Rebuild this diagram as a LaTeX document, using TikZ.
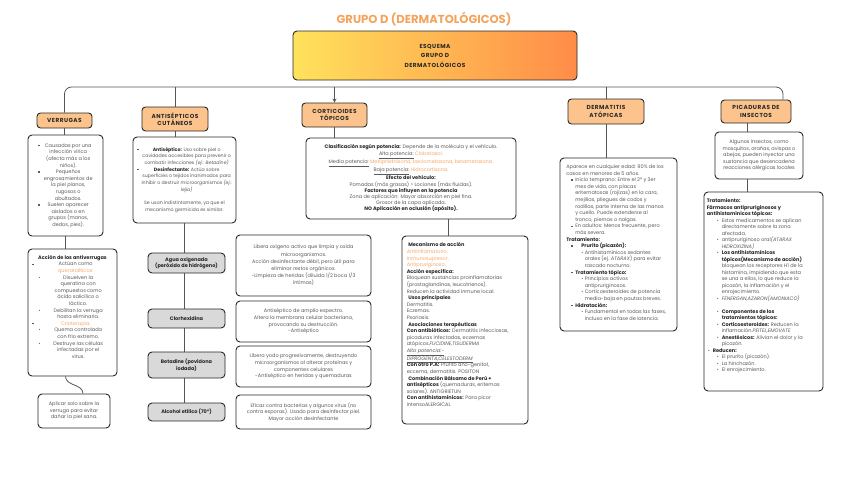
\documentclass[tikz,border=0pt]{standalone}
\usepackage{fontspec}
\setmainfont{Poppins}
\newfontfamily\spaced{Poppins}[LetterSpace=8]
\usetikzlibrary{arrows,positioning}

\definecolor{ink}{RGB}{40,40,40}
\definecolor{soft}{RGB}{90,90,90}
\definecolor{accent}{RGB}{246,168,106}
\definecolor{titlec}{RGB}{242,164,92}
\definecolor{headfill}{RGB}{252,196,140}
\definecolor{drugfill}{RGB}{217,217,217}
\definecolor{linkc}{RGB}{85,85,85}
\definecolor{gradL}{RGB}{255,226,92}
\definecolor{gradR}{RGB}{255,140,72}

\newcommand\kw[1]{{\bfseries\color{ink}#1}}
\newcommand\acc[1]{{\color{accent}#1}}
\newcommand\sqb{\raisebox{0.9pt}{\rule{1.4pt}{1.4pt}}}
\newcommand\dotb{\raisebox{0.1pt}{\scalebox{0.95}{\textbullet}}}
% list line starts (dermatitis box)
\newcommand\lia{\hspace*{5pt}\makebox[4pt][l]{\sqb}}
\newcommand\lib{\hspace*{9pt}}
\newcommand\lic{\hspace*{15pt}\makebox[3.5pt][l]{\dotb}}
\newcommand\lid{\hspace*{18.5pt}}
% list line starts (tratamiento box)
\newcommand\tia{\hspace*{1pt}\makebox[5pt][l]{\dotb}}
\newcommand\tic{\hspace*{10pt}\makebox[5pt][l]{\dotb}}
\newcommand\tid{\hspace*{15pt}}

\begin{document}
\begin{tikzpicture}[x=1pt,y=-1pt,>=stealth,
    wh/.style 2 args={minimum width=#1pt,minimum height=#2pt},
    head/.style={draw=ink,fill=headfill,line width=0.9pt,rounded corners=3.5pt,
      inner sep=0pt,align=center,text=ink,
      font=\spaced\bfseries\fontsize{5.8}{7.6}\selectfont},
    card/.style={draw=ink,fill=white,line width=0.9pt,rounded corners=4pt,
      inner sep=0pt,align=center,text=soft,font=\fontsize{5}{6.6}\selectfont},
    drug/.style={card,fill=drugfill,text=ink,font=\bfseries\fontsize{5}{6.6}\selectfont},
    note/.style={inner sep=0pt,align=left,text=soft,font=\fontsize{5}{6.6}\selectfont},
    link/.style={draw=linkc,line width=0.8pt}]
  \useasboundingbox (0,0) rectangle (848,477);

  % title and header
  \node[text=titlec,font=\bfseries\fontsize{11.6}{13}\selectfont] (title) at (424,19)
    {GRUPO D (DERMATOLÓGICOS)};
  \node[draw=ink,line width=0.9pt,rounded corners=4pt,left color=gradL,right color=gradR,
    wh={284}{49},align=center,text=ink,
    font=\spaced\bfseries\fontsize{5.8}{9.5}\selectfont] (esq) at (435,55.5)
    {ESQUEMA\\GRUPO D\\DERMATOLÓGICOS};

  % branch heads
  \node[head,wh={55}{15}] (verr) at (64.5,120.5) {VERRUGAS};
  \node[head,wh={66}{24}] (anti) at (175,119) {ANTISÉPTICOS\\CUTÁNEOS};
  \node[head,wh={65}{24}] (corti) at (334.5,115) {CORTICOIDES\\TÓPICOS};
  \node[head,wh={76}{25}] (derm) at (606,111.5) {DERMATITIS\\ATÓPICAS};
  \node[head,wh={70}{23}] (pica) at (756,111.5) {PICADURAS DE\\INSECTOS};

  \coordinate (bus) at (0,87);
  \coordinate (picr) at ([xshift=27pt]pica.north);
  \draw[link,rounded corners=7pt] (verr.north) |- (bus -| picr) -- (picr);
  \draw[link] (bus -| anti.north) -- (anti.north);
  \draw[link,->] (bus -| corti.north) -- (corti.north);
  \draw[link] (bus -| derm.north) -- (derm.north);

  % verrugas
  \node[card,wh={75}{101}] (verrtxt) at (65.5,185.5) {%
    \begin{tabular}{@{}l@{\hspace{4pt}}c@{}}
    \sqb & Causadas por una\\
     & infección vírica\\
     & (afecta más a los\\
     & niños).\\
    \sqb & Pequeños\\
     & engrosamientos de\\
     & la piel planos,\\
     & rugosos o\\
     & abultados.\\
    \sqb & Suelen aparecer\\
     & aislados o en\\
     & grupos (manos,\\
     & dedos, pies).
    \end{tabular}};
  \node[card,wh={89}{127}] (verracc) at (72.5,312.5) {};
  \node[note,anchor=north] (verrnote) at ([yshift=-6pt]verracc.north) {%
    \begin{tabular}{@{}l@{\hspace{5pt}}l@{\hspace{3pt}}c@{}}
    \multicolumn{3}{c}{\kw{Acción de los antiverrugas}}\\
    \sqb & \multicolumn{2}{c}{Actúan como}\\
     & \multicolumn{2}{c}{\acc{queratolíticos:}}\\
     & \dotb & Disuelven la\\
     & & queratina con\\
     & & compuestos como\\
     & & ácido salicílico o\\
     & & láctico.\\
     & \dotb & Debilitan la verruga\\
     & & hasta eliminarla.\\
    \sqb & \multicolumn{2}{c}{\acc{Crioterapia:}}\\
     & \dotb & Quema controlada\\
     & & con frío extremo.\\
     & \dotb & Destruye las células\\
     & & infectadas por el\\
     & & virus.
    \end{tabular}};
  \node[card,wh={72}{34}] (aplic) at (74,411)
    {Aplicar solo sobre la\\verruga para evitar\\dañar la piel sana.};
  \draw[link] (verr.south) -- (verr.south |- verrtxt.north);
  \draw[link] (verrtxt.south) -- (verrtxt.south |- verracc.north);
  \draw[link] (verrtxt.south |- verracc.south) to[out=-90,in=90] ([xshift=9pt]aplic.north);

  % antisepticos
  \node[card,wh={103}{86},font=\fontsize{4.7}{6.7}\selectfont] (antitxt) at (184.5,180) {%
    \begin{tabular}{@{}l@{\hspace{3pt}}c@{}}
    \sqb & \kw{Antiséptico:} Uso sobre piel o\\
     & cavidades accesibles para prevenir o\\
     & combatir infecciones \textit{(ej.: Betadine)}\\
    \sqb & \kw{Desinfectante:} Actúa sobre\\
     & superficies o tejidos inanimados para\\
     & inhibir o destruir microorganismos \textit{(ej.:}\\
     & \textit{lejía)}\\
    \multicolumn{2}{c}{}\\
    \multicolumn{2}{c}{Se usan indistintamente, ya que el}\\
    \multicolumn{2}{c}{mecanismo germicida es similar.}
    \end{tabular}};
  \node[drug,wh={77}{20}] (agua) at (186.5,263) {Agua oxigenada\\(peróxido de hidrógeno)};
  \node[drug,wh={77}{19}] (clor) at (186.5,318.5) {Clorhexidina};
  \node[drug,wh={77}{26}] (beta) at (186.5,365) {Betadine (povidona\\iodada)};
  \node[drug,wh={77}{18}] (alco) at (186.5,412) {Alcohol etílico (70°)};
  \draw[link] (anti.south) -- (anti.south |- antitxt.north);
  \draw[link] (antitxt.south) -- (antitxt.south |- agua.north);
  \foreach \a/\b in {agua/clor,clor/beta,beta/alco}
    \draw[link] (antitxt.south |- \a.south) -- (antitxt.south |- \b.north);

  \node[card,wh={135}{61},font=\fontsize{5}{7.2}\selectfont] (aguatxt) at (303.5,265.5)
    {Libera oxígeno activo que limpia y oxida\\microorganismos.\\
     Acción desinfectante débil, pero útil para\\eliminar restos orgánicos.\\
     -Limpieza de heridas (diluida 1/2 boca 1/3\\íntimas)};
  \node[card,wh={135}{41}] (clortxt) at (303.5,321.5)
    {Antiséptico de amplio espectro.\\Altera la membrana celular bacteriana,\\
     provocando su destrucción.\\-Antiséptico};
  \node[card,wh={135}{41}] (betatxt) at (303.5,366.5)
    {Libera yodo progresivamente, destruyendo\\microorganismos al alterar proteínas y\\
     componentes celulares\\-Antiséptico en heridas y quemaduras};
  \node[card,wh={135}{34}] (alcotxt) at (303.5,412)
    {Eficaz contra bacterias y algunos virus (no\\
     contra esporas). Usado para desinfectar piel.\\Mayor acción desinfectante};

  % corticoides
  \node[card,wh={210}{81},font=\fontsize{5}{6.2}\selectfont] (clasif) at (411,178.5)
    {\kw{Clasificación según potencia:} Depende de la molécula y el vehículo.\\
     \underline{Alta potencia:} \acc{Clobetasol.}\\
     \underline{Media potencia:} \acc{Metilprednisona, beclometasona, betametasona.}\\
     \underline{Baja potencia:} \acc{Hidrocortisona.}\\
     \kw{Efecto del vehículo:}\\
     Pomadas (más grasas) > Lociones (más fluidas).\\
     \kw{Factores que influyen en la potencia}\\
     Zona de aplicación: Mayor absorción en piel fina.\\
     Grosor de la capa aplicada.\\
     \kw{NO Aplicación en oclusión (apósito).}};
  \node[card,wh={126}{188}] (mecan) at (465,330) {};
  \node[note,anchor=north west] (mecannote) at ([shift={(5pt,-7pt)}]mecan.north west)
    {\hspace*{1.5pt}\kw{Mecanismo de acción}\\
     \acc{Antiinflamatorio.}\\
     \acc{Inmunosupresor.}\\
     \acc{Antipruriginoso.}\\
     \kw{Acción específica:}\\
     Bloquean sustancias proinflamatorias\\
     (prostaglandinas, leucotrienos).\\
     Reducen la actividad inmune local.\\
     \hspace*{1.5pt}\kw{Usos principales}\\
     Dermatitis.\\
     Eczemas.\\
     Psoriasis.\\
     \hspace*{1.5pt}\kw{Asociaciones terapéuticas}\\
     \kw{Con antibióticos:} Dermatitis infecciosas,\\
     picaduras infectadas, eczemas\\
     atópicos.\textit{FUCIDINE,TISUDERMA}\\
     \textit{\underline{Alto potencia:-}}\\
     \textit{\underline{DIPROGENTA,CELESTODERM}}\\
     \kw{Con otro P.A:} Prurito ano-genital,\\
     eccema, dermatitis. POSITON\\
     \hspace*{1.5pt}\kw{Combinación Bálsamo de Perú +}\\
     \kw{antisépticos} (quemaduras, eritemas\\
     solares). ANTIGRIETUN\\
     \kw{Con antihistamínicos:} Para picor\\
     intensoALERGICAL};
  \coordinate (cm) at (448,0);
  \draw[link] (corti.south) -- (corti.south |- clasif.north);
  \draw[link] (clasif.south -| cm) -- (mecan.north -| cm);

  % dermatitis
  \node[card,wh={117}{173}] (dermtxt) at (618.5,244.5) {};
  \node[note,anchor=north west] (dermnote) at ([shift={(6.5pt,-7pt)}]dermtxt.north west)
    {Aparece en cualquier edad: 90\% de los\\
     casos en menores de 5 años.\\
     \lia Inicio temprano: Entre el 2º y 3er\\
     \lib mes de vida, con placas\\
     \lib eritematosas (rojizas) en la cara,\\
     \lib mejillas, pliegues de codos y\\
     \lib rodillas, parte interna de las manos\\
     \lib y cuello. Puede extenderse al\\
     \lib tronco, piernas o nalgas.\\
     \lia En adultos: Menos frecuente, pero\\
     \lib más severa.\\
     \kw{Tratamiento:}\\
     \lia\hspace{6pt}\kw{Prurito (picazón):}\\
     \lic Antihistamínicos sedantes\\
     \lid orales (ej. \textit{ATARAX}) para evitar\\
     \lid rascado nocturno.\\
     \lia\kw{Tratamiento tópico:}\\
     \lic Principios activos\\
     \lid antipruriginosos.\\
     \lic Corticoesteroides de potencia\\
     \lid media-baja en pautas breves.\\
     \lia\kw{Hidratación:}\\
     \lic Fundamental en todas las fases,\\
     \lid incluso en la fase de latencia.};
  \draw[link] (derm.south) -- (derm.south |- dermtxt.north);

  % picaduras
  \node[card,wh={88}{47}] (picatxt) at (759,155.5)
    {Algunos insectos, como\\mosquitos, arañas, avispas o\\abejas, pueden inyectar una\\
     sustancia que desencadena\\reacciones alérgicas locales};
  \node[card,wh={119}{199}] (trat) at (763.5,291.5) {};
  \node[note,anchor=north west,font=\fontsize{5}{6.5}\selectfont] (tratnote)
    at ([shift={(3pt,-7pt)}]trat.north west)
    {\kw{Tratamiento:}\\
     \kw{Fármacos antipruriginosos y}\\
     \kw{antihistamínicos tópicos:}\\
     \tic Estos medicamentos se aplican\\
     \tid directamente sobre la zona\\
     \tid afectada.\\
     \tic antipruriginoso oral\textit{(ATARAX}\\
     \tid \textit{HIDROXIZINA)}\\
     \tic \kw{Los antihistamínicos}\\
     \tid \kw{tópicos(Mecanismo de acción)}\\
     \tid bloquean los receptores H1 de la\\
     \tid histamina, impidiendo que esta\\
     \tid se una a ellos, lo que reduce la\\
     \tid picazón, la inflamación y el\\
     \tid enrojecimiento.\\
     \tic \textit{FENERGAN,AZARON(AMONIACO)}\\
     \mbox{}\\
     \tic \kw{Componentes de los}\\
     \tid \kw{tratamientos tópicos:}\\
     \tic \kw{Corticoesteroides:} Reducen la\\
     \tid inflamación.\textit{PEITEL,EMOVATE}\\
     \tic \kw{Anestésicos:} Alivian el dolor y la\\
     \tid picazón.\\
     \tia \kw{Reducen:}\\
     \tic El prurito (picazón).\\
     \tic La hinchazón.\\
     \tic El enrojecimiento.};
  \coordinate (pm) at (747,0);
  \draw[link] (pica.south -| pm) -- (picatxt.north -| pm);
  \draw[link] (picatxt.south -| pm) -- (trat.north -| pm);
\end{tikzpicture}
\end{document}
